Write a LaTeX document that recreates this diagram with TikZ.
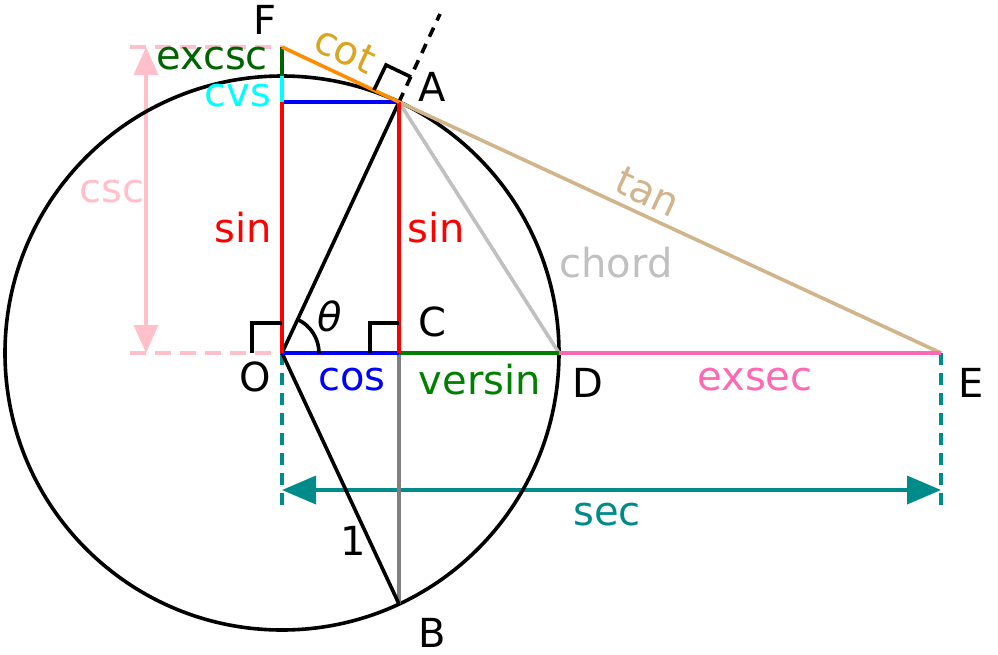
\documentclass[tikz,border=0pt]{standalone}
\usepackage{fontspec}
\setmainfont{DejaVu Sans}
\usetikzlibrary{arrows.meta}
\definecolor{cotc}{RGB}{255,140,0}
\definecolor{cotl}{RGB}{218,165,32}
\definecolor{tanc}{RGB}{210,180,140}
\definecolor{exsc}{RGB}{255,105,180}
\definecolor{secc}{RGB}{0,139,139}
\definecolor{cscc}{RGB}{255,192,203}
\definecolor{chc}{RGB}{192,192,192}
\definecolor{dg}{RGB}{0,100,0}
\definecolor{vg}{RGB}{0,128,0}
\definecolor{cy}{RGB}{0,255,255}
\tikzset{lw/.style={line width=3.6pt},lab/.style={font=\fontsize{40}{42}\selectfont,inner sep=0pt}}
\begin{document}
\begin{tikzpicture}[x=1pt,y=-1pt]
\useasboundingbox (0,0) rectangle (998,654);
\coordinate (O) at (282,353);
\coordinate (A) at (399,102);
\coordinate (C) at (399,353);
\coordinate (D) at (559,353);
\coordinate (B) at (399,604);
\coordinate (E) at (941,353);
\coordinate (F) at (282,47);
\coordinate (S) at (282,102);
\coordinate (T) at (282,76);
\coordinate (X) at (440,14);
% csc
\draw[cscc,lw,dash pattern=on 16pt off 9pt] (130,47) -- (F);
\draw[cscc,lw,dash pattern=on 16pt off 9pt] (130,353) -- (O);
\draw[cscc,lw,-{Triangle[length=28pt,width=24pt]}] (146,200) -- (146,47);
\draw[cscc,lw,-{Triangle[length=28pt,width=24pt]}] (146,200) -- (146,353);
% sec
\draw[secc,lw,dash pattern=on 12pt off 8pt] (O) -- (282,505);
\draw[secc,lw,dash pattern=on 12pt off 8pt] (E) -- (941,505);
\draw[secc,lw,{Triangle[length=34pt,width=28pt]}-{Triangle[length=34pt,width=28pt]}] (282,490) -- (941,490);
\draw[lw] (O) circle (277);
\draw[lw,dash pattern=on 10pt off 8pt] (A) -- (X);
\draw[chc,lw] (A) -- (D);
\draw[gray,lw] (C) -- (B);
\draw[lw] (O) -- (A);
\draw[lw] (O) -- (B);
\draw[tanc,lw] (A) -- (E);
\draw[exsc,lw] (D) -- (E);
\draw[vg,lw] (C) -- (D);
\draw[blue,lw] (O) -- (C);
\draw[blue,lw] (S) -- (A);
\draw[red,lw] (O) -- (S);
\draw[red,lw] (C) -- (A);
\draw[cy,lw] (S) -- (T);
\draw[dg,lw] (T) -- (F);
\draw[cotc,lw] (F) -- (A);
% right angles
\draw[lw] (252,353) -- (252,323) -- (282,323);
\draw[lw] (370,353) -- (370,323) -- (399,323);
\draw[lw] (374,90) -- (386,65) -- (411,77);
\draw[lw] (319,353) arc (0:-65:37);
% labels
\node[lab] at (265,20) {F};
\node[lab] at (432,87) {A};
\node[lab,cotl,rotate=-25] at (345,50) {cot};
\node[lab,tanc,rotate=-25] at (648,192) {tan};
\node[lab,dg] at (212,59) {excsc};
\node[lab,cy] at (238,96) {cvs};
\node[lab,cscc] at (112,192) {csc};
\node[lab,red] at (243,228) {sin};
\node[lab,red] at (436,228) {sin};
\node[lab,chc] at (616,263) {chord};
\node[lab] at (330,316) {\itshape θ};
\node[lab] at (432,322) {C};
\node[lab] at (255,377) {O};
\node[lab,blue] at (352,380) {cos};
\node[lab,vg] at (480,380) {versin};
\node[lab] at (588,383) {D};
\node[lab,exsc] at (755,380) {exsec};
\node[lab] at (971,383) {E};
\node[lab,secc] at (607,515) {sec};
\node[lab] at (353,541) {1};
\node[lab] at (432,633) {B};
\end{tikzpicture}
\end{document}
